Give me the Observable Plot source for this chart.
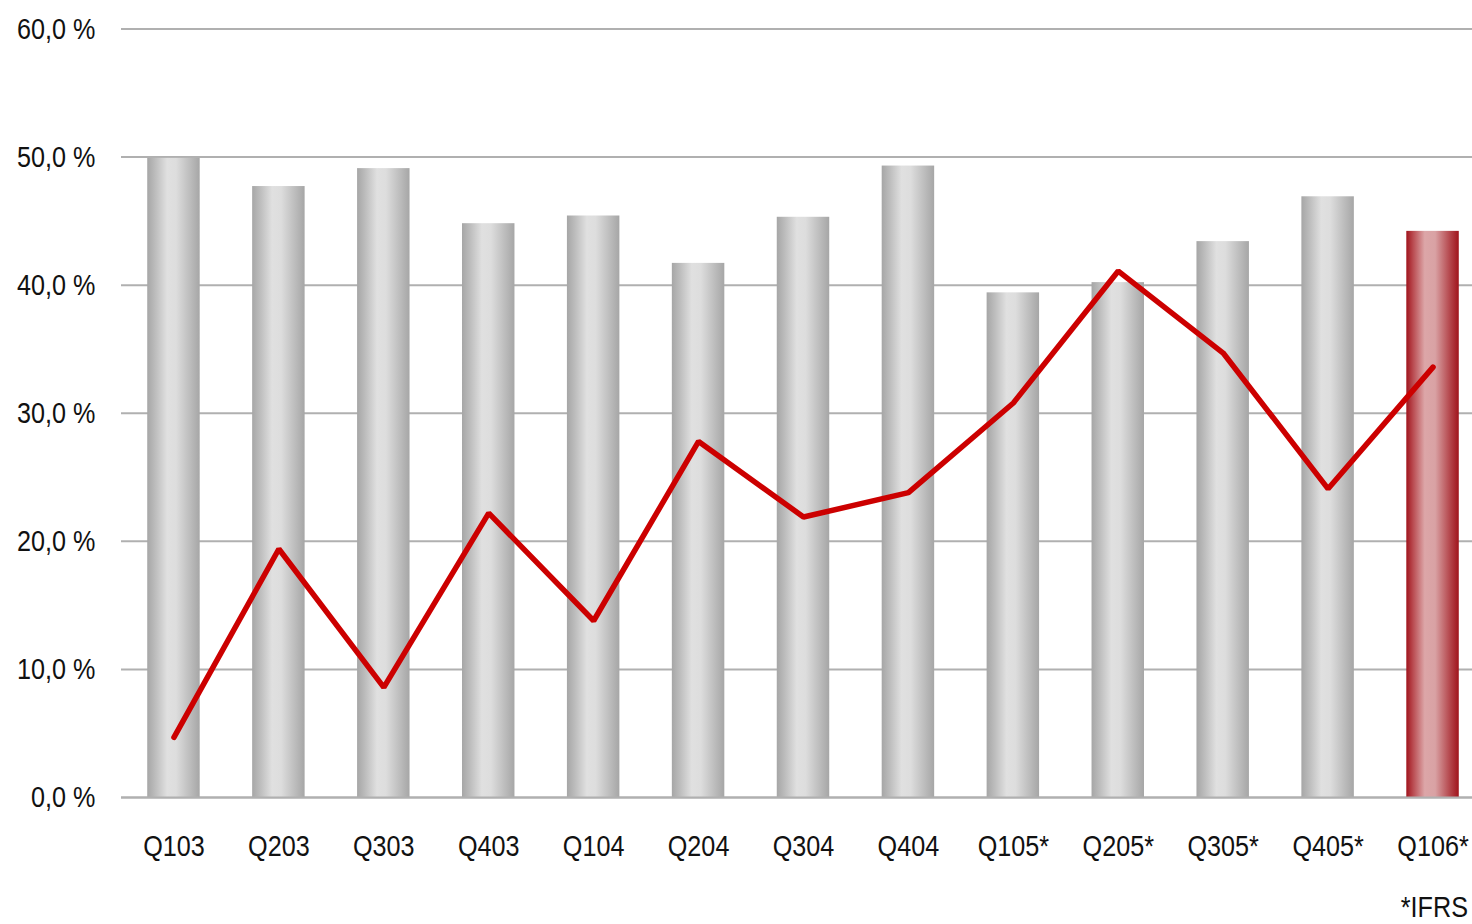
<!DOCTYPE html>
<html>
<head>
<meta charset="utf-8">
<script src="https://cdn.jsdelivr.net/npm/d3@7"></script>
<script src="https://cdn.jsdelivr.net/npm/@observablehq/plot@0.6"></script>
<style>
  html, body { margin: 0; padding: 0; background: #fff; overflow: hidden; width: 1472px; height: 924px; }
  #chart { position: relative; width: 1472px; }
  #caption { position: absolute; right: 4px; top: 890px; font: 30px "Liberation Sans", Arial, sans-serif; color: #111; transform: scaleX(0.84); transform-origin: right center; }
</style>
</head>
<body>
<div id="chart"></div>
<div id="caption">*IFRS</div>
<script>
const quarters = ["Q103","Q203","Q303","Q403","Q104","Q204","Q304","Q404","Q105*","Q205*","Q305*","Q405*","Q106*"];
const barValues = [49.9, 47.7, 49.1, 44.8, 45.4, 41.7, 45.3, 49.3, 39.4, 40.2, 43.4, 46.9, 44.2];
const lineValues = [4.7, 19.4, 8.6, 22.2, 13.8, 27.8, 21.9, 23.8, 30.8, 41.1, 34.7, 24.1, 33.6];
const yTicks = [0, 10, 20, 30, 40, 50, 60];
const highlight = "Q106*";

const data = quarters.map((q, i) => ({q, bar: barValues[i], line: lineValues[i]}));
const fmt = v => v.toFixed(1).replace(".", ",") + " %";
const font = '"Liberation Sans", Arial, sans-serif';

const plot = Plot.plot({
  width: 1472,
  height: 880,
  marginLeft: 121,
  marginRight: -13,
  marginTop: 28.5,
  marginBottom: 83,
  style: {fontFamily: font, fontSize: "30px", color: "#111", background: "transparent", overflow: "visible"},
  x: {domain: quarters, paddingInner: 0.5, paddingOuter: 0.25, round: false, label: null, tickSize: 0, tickPadding: 37},
  y: {domain: [0, 60], ticks: yTicks, tickFormat: fmt, label: null, tickSize: 0, tickPadding: 26},
  marks: [
    Plot.gridY(yTicks, {stroke: "#b0b0b0", strokeOpacity: 1, strokeWidth: 2}),
    Plot.barY(data.filter(d => d.q !== highlight), {x: "q", y: "bar", fill: "url(#gradGray)"}),
    Plot.barY(data.filter(d => d.q === highlight), {x: "q", y: "bar", fill: "url(#gradRed)"}),
    Plot.ruleY([0], {stroke: "#b0b0b0", strokeWidth: 2}),
    Plot.line(data, {x: "q", y: "line", stroke: "#cc0000", strokeWidth: 5.5, strokeLinejoin: "miter", strokeLinecap: "round"})
  ]
});

const svg = d3.select(plot);
const defs = svg.insert("defs", ":first-child");
function grad(id, stops) {
  const g = defs.append("linearGradient").attr("id", id).attr("x1", "0").attr("x2", "1").attr("y1", "0").attr("y2", "0");
  stops.forEach(([o, c]) => g.append("stop").attr("offset", o).attr("stop-color", c));
}
grad("gradGray", [["0%", "#a6a6a6"], ["15%", "#bcbcbc"], ["38%", "#e0e0e0"], ["55%", "#dddddd"], ["82%", "#bcbcbc"], ["100%", "#a6a6a6"]]);
grad("gradRed", [["0%", "#a0141c"], ["12%", "#b8474d"], ["35%", "#dca6a8"], ["55%", "#d9a2a4"], ["85%", "#b24046"], ["100%", "#a0141c"]]);

// condense text horizontally (narrow face look)
svg.selectAll("text").each(function() {
  const t = d3.select(this);
  const tr = t.attr("transform") || "";
  const x = t.attr("x");
  if (x !== null) {
    t.attr("x", null).attr("transform", `${tr} translate(${x},0) scale(0.84,1)`);
  } else {
    t.attr("transform", `${tr} scale(0.84,1)`);
  }
});

document.getElementById("chart").appendChild(plot);
</script>
</body>
</html>
